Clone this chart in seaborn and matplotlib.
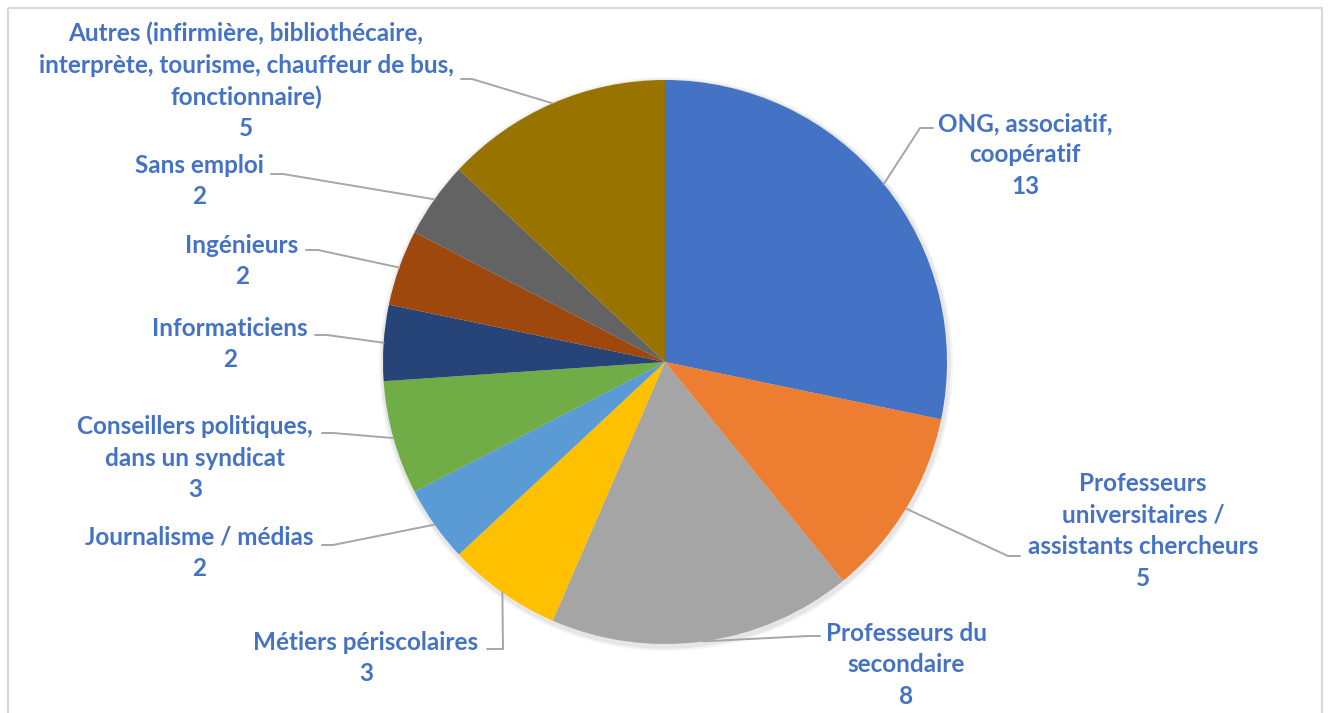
import matplotlib
matplotlib.use("Agg")
import numpy as np
import matplotlib.pyplot as plt
import seaborn as sns
from matplotlib.patches import Rectangle, Circle

# ── data ────────────────────────────────────────────────────────────────
labels = [
    "ONG, associatif,\ncoopératif",
    "Professeurs\nuniversitaires /\nassistants chercheurs",
    "Professeurs du\nsecondaire",
    "Métiers périscolaires",
    "Journalisme / médias",
    "Conseillers politiques,\ndans un syndicat",
    "Informaticiens",
    "Ingénieurs",
    "Sans emploi",
    "Autres (infirmière, bibliothécaire,\ninterprète, tourisme, chauffeur de bus,\nfonctionnaire)",
]
counts = [13, 5, 8, 3, 2, 3, 2, 2, 2, 5]     # numbers printed under each label
values = [13, 5, 8, 3, 2, 3, 2, 2, 2, 6]     # wedge sizes as drawn (the "Autres" wedge is drawn as 6)
colors = sns.color_palette(["#4472C4", "#ED7D31", "#A5A5A5", "#FFC000", "#5B9BD5",
                            "#70AD47", "#264478", "#9E480E", "#636363", "#997300"])

# ── layout (pixels, y down) ─────────────────────────────────────────────
W, H = 1330, 713
CX, CY, R = 665, 362, 282
label_xy = [(1025, 155), (1143, 531), (906, 665), (366, 658), (199, 553),
            (195, 458), (230, 344), (242, 261), (199, 181), (246, 81)]
knee_xy = [(920, 128), (1008, 556), (808, 636), (503, 649), (333, 545),
           (333, 433), (327, 335), (318, 250), (283, 174), (472, 79)]
end_xy = [(933, 128), (1020, 556), (820, 636), (487, 649), (322, 545),
          (322, 433), (315, 335), (306, 250), (271, 174), (461, 79)]

sns.set_style("white")
plt.rcParams['font.family'] = ['Lato', 'DejaVu Sans']

fig = plt.figure(figsize=(13.3, 7.13), dpi=100)
ax = fig.add_axes([0, 0, 1, 1])

# soft shadow behind the pie
for off, a in [(5, 0.04), (3, 0.06)]:
    ax.add_patch(Circle((CX + 1, CY + 2), R + off, color="black", alpha=a, lw=0, zorder=0))

wedges, _ = ax.pie(values, colors=colors, startangle=-90, counterclock=True,
                   center=(CX, CY), radius=R, wedgeprops=dict(linewidth=0))
ax.set_xlim(0, W)
ax.set_ylim(H, 0)
ax.set_aspect('equal')
ax.axis('off')

for w, lab, n, (tx, ty), kn, en in zip(wedges, labels, counts, label_xy, knee_xy, end_xy):
    mid = np.deg2rad((w.theta1 + w.theta2) / 2)
    sx, sy = CX + R * np.cos(mid), CY + R * np.sin(mid)
    ax.plot([sx, kn[0], en[0]], [sy, kn[1], en[1]], color="#A6A6A6", lw=1.4, zorder=3)
    ax.text(tx, ty, f"{lab}\n{n}", ha="center", va="center", multialignment="center",
            color="#4472C4", fontsize=17.5, fontweight="bold", linespacing=1.45, zorder=4)

ax.add_patch(Rectangle((8, 8), 1314, 720, fill=False, edgecolor="#D9D9D9", lw=1.5, clip_on=False))

fig.savefig("out.png", dpi=100)
